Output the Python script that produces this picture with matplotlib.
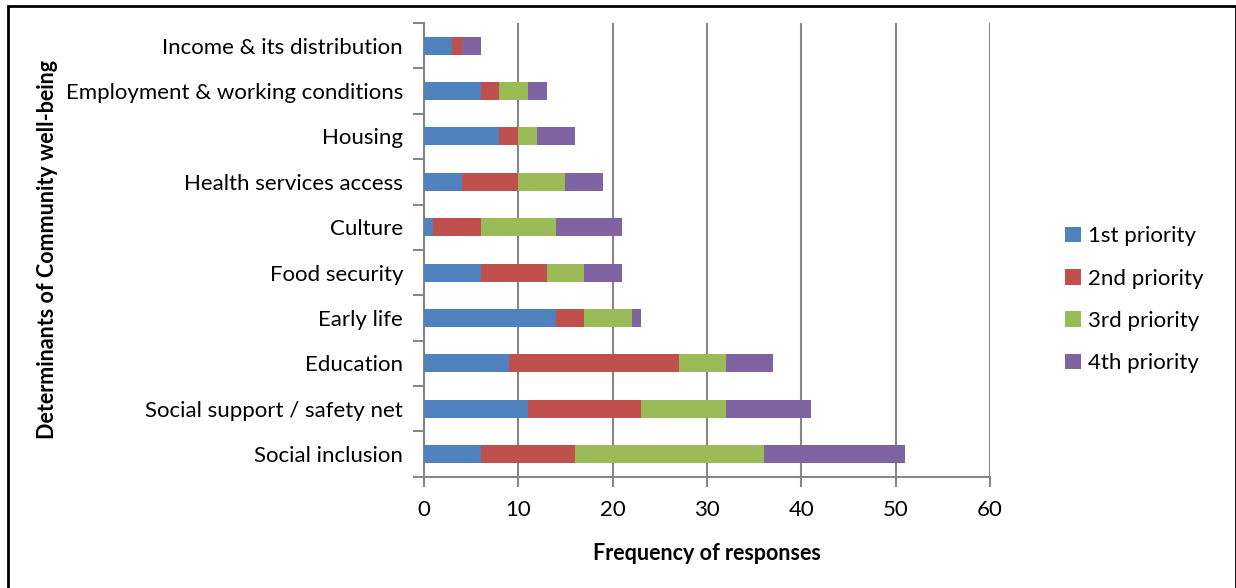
import numpy as np
import matplotlib
matplotlib.use("Agg")
import matplotlib.pyplot as plt
from matplotlib.patches import Rectangle

categories = ["Social inclusion", "Social support / safety net", "Education", "Early life",
              "Food security", "Culture", "Health services access", "Housing",
              "Employment & working conditions", "Income & its distribution"]
priority_1 = [6, 11, 9, 14, 6, 1, 4, 8, 6, 3]
priority_2 = [10, 12, 18, 3, 7, 5, 6, 2, 2, 1]
priority_3 = [20, 9, 5, 5, 4, 8, 5, 2, 3, 0]
priority_4 = [15, 9, 5, 1, 4, 7, 4, 4, 2, 2]
series_names = ["1st priority", "2nd priority", "3rd priority", "4th priority"]
colors = ["#4F81BD", "#C0504D", "#9BBB59", "#8064A2"]

plt.rcParams['font.family'] = ['Lato', 'DejaVu Sans']

fig = plt.figure(figsize=(12.36, 5.88), dpi=100)
ax = fig.add_axes([0.343, 0.189, 0.458, 0.772])

y = np.arange(len(categories))
left = np.zeros(len(categories))
for vals, name, c in zip([priority_1, priority_2, priority_3, priority_4], series_names, colors):
    ax.barh(y, vals, left=left, height=0.4, color=c, label=name, zorder=3)
    left += np.array(vals)

ax.set_xlim(0, 60)
ax.set_ylim(-0.5, len(categories) - 0.5)
ax.set_xticks(np.arange(0, 61, 10))
ax.set_yticks(y)
ax.set_yticklabels(categories)
ax.set_yticks(np.arange(-0.5, len(categories), 1), minor=True)
ax.tick_params(axis='y', which='major', length=0, pad=15, labelsize=16)
ax.tick_params(axis='y', which='minor', length=8, color="#868686", width=1.5)
ax.tick_params(axis='x', length=7, color="#868686", width=1.5, pad=10, labelsize=16)
ax.grid(axis='x', color="#868686", linewidth=1.5, zorder=0)

for side in ['top', 'right']:
    ax.spines[side].set_visible(False)
for side in ['left', 'bottom']:
    ax.spines[side].set_color("#868686")
    ax.spines[side].set_linewidth(1.5)

ax.set_xlabel("Frequency of responses", fontsize=15.5, fontweight='bold', labelpad=16)
ax.set_ylabel("Determinants of Community well-being", fontsize=15.5, fontweight='bold')
ax.yaxis.set_label_coords(-0.646, 0.5)

ax.legend(loc='center left', bbox_to_anchor=(1.097, 0.39), frameon=False, fontsize=16,
          handlelength=0.7, handleheight=0.7, handletextpad=0.35, labelspacing=1.0)

fig.patches.append(Rectangle((0.0065, -0.01), 0.9935, 1.0, transform=fig.transFigure,
                             fill=False, edgecolor="black", linewidth=2))

fig.savefig("out.png", dpi=100)
